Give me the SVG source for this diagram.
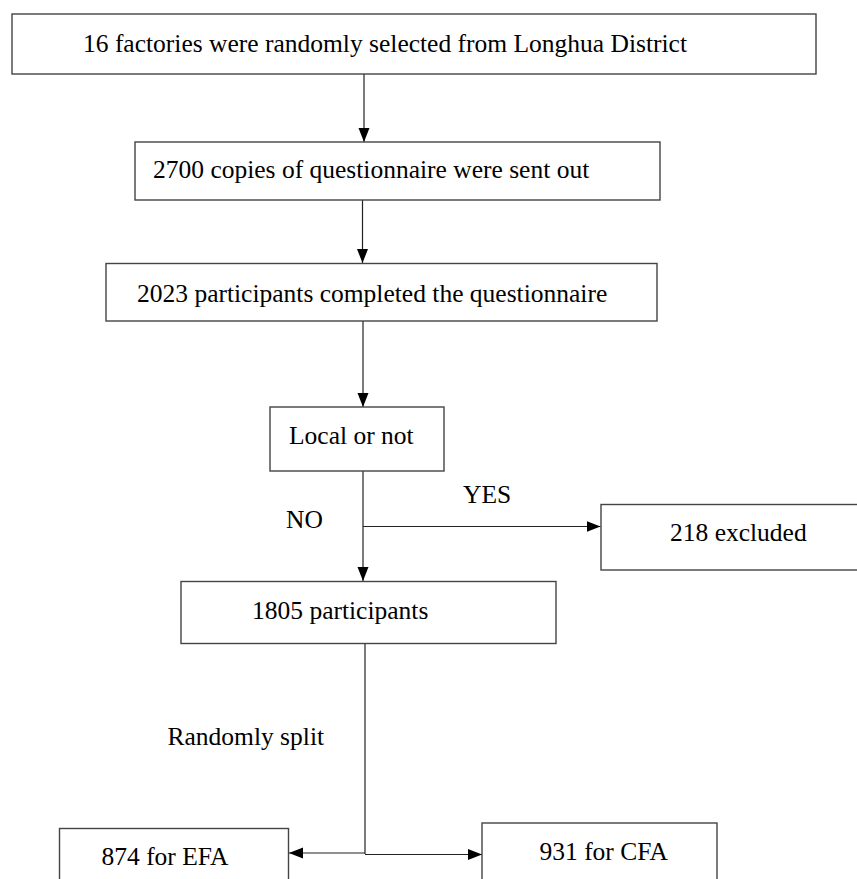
<svg xmlns="http://www.w3.org/2000/svg" width="857" height="879" viewBox="0 0 857 879">
<style>
.box{fill:#fff;stroke:#444;stroke-width:1.4}
.t{font-family:"Liberation Serif","Times New Roman",serif;font-size:25.5px;fill:#000}
.c{fill:none;stroke:#222;stroke-width:1.2}
</style>
<defs>
<marker id="ah" markerUnits="userSpaceOnUse" markerWidth="15" markerHeight="12" refX="14" refY="5.5" orient="auto">
<path d="M0,0 L14,5.5 L0,11 z" fill="#000"/>
</marker>
</defs>
<rect width="857" height="879" fill="#fff"/>
<g id="connectors">
<line class="c" x1="364" y1="74" x2="364" y2="142" marker-end="url(#ah)"/>
<line class="c" x1="362.5" y1="200" x2="362.5" y2="263" marker-end="url(#ah)"/>
<line class="c" x1="363" y1="321" x2="363" y2="407" marker-end="url(#ah)"/>
<line class="c" x1="363" y1="471" x2="363" y2="581" marker-end="url(#ah)"/>
<line class="c" x1="363" y1="526.5" x2="600.5" y2="526.5" marker-end="url(#ah)"/>
<line class="c" x1="365" y1="643" x2="365" y2="854"/>
<line class="c" x1="365" y1="853" x2="289" y2="853" marker-end="url(#ah)"/>
<line class="c" x1="365" y1="854.5" x2="482" y2="854.5" marker-end="url(#ah)"/>
<text class="t" x="286" y="528">NO</text>
<text class="t" x="463" y="503">YES</text>
<text class="t" x="167.5" y="745">Randomly split</text>
</g>
<g id="n1"><rect class="box" x="12" y="14" width="804" height="60"/><text class="t" x="83" y="52">16 factories were randomly selected from Longhua District</text></g>
<g id="n2"><rect class="box" x="135" y="142" width="525" height="58"/><text class="t" x="153" y="178">2700 copies of questionnaire were sent out</text></g>
<g id="n3"><rect class="box" x="106" y="263.5" width="551" height="57.5"/><text class="t" x="137" y="302">2023 participants completed the questionnaire</text></g>
<g id="n4"><rect class="box" x="270" y="407" width="174" height="64"/><text class="t" x="289" y="444">Local or not</text></g>
<g id="n5"><rect class="box" x="601" y="504.5" width="260" height="65.5"/><text class="t" x="670" y="541">218 excluded</text></g>
<g id="n6"><rect class="box" x="181" y="581.5" width="375" height="62"/><text class="t" x="252" y="618.5">1805 participants</text></g>
<g id="n7"><rect class="box" x="59.5" y="828.5" width="229" height="60"/><text class="t" x="101.5" y="865">874 for EFA</text></g>
<g id="n8"><rect class="box" x="482" y="823" width="235" height="66"/><text class="t" x="539.5" y="860">931 for CFA</text></g>
</svg>
